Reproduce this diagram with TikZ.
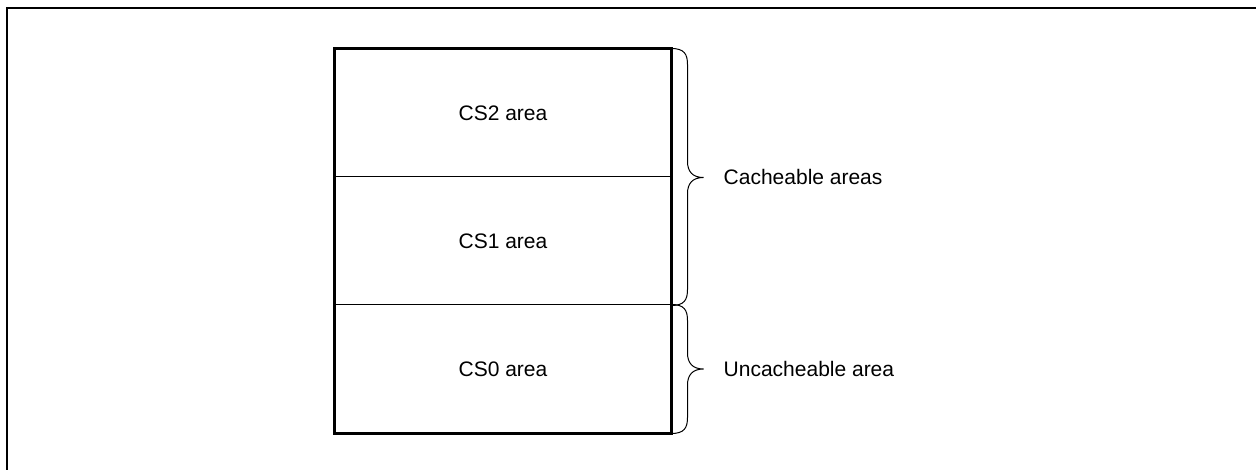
\documentclass[tikz,border=0pt]{standalone}
\usepackage{fontspec}
\setmainfont{Liberation Sans}
\usetikzlibrary{calc}
\begin{document}
\begin{tikzpicture}[x=1pt,y=-1pt,
  area/.style={draw, line width=1pt, rectangle, minimum width=336pt, minimum height=128pt, inner sep=0pt, font=\fontsize{21}{25}\selectfont},
  lbl/.style={anchor=west, inner sep=0pt, font=\fontsize{21}{25}\selectfont},
  bracel/.style={draw, line width=1pt},
  frame/.style={line width=2.5pt}]
\useasboundingbox (0,0) rectangle (1256,470);
\draw[frame] (7,470) -- (7,8) -- (1256,8);
\node[area] (cs2) at (503,113) {CS2 area};
\node[area] (cs1) at (503,241) {CS1 area};
\node[area] (cs0) at (503,369) {CS0 area};
\draw[line width=2.5pt] (cs2.north west) rectangle (cs0.south east);
% brace for cacheable areas
\coordinate (b1t) at (cs2.north east);
\coordinate (b1b) at (cs1.south east);
\coordinate (b1m) at (cs2.south east);
\draw[bracel] (b1t) .. controls ($(b1t)+(13,0)$) and ($(b1t)+(16,6)$) .. ($(b1t)+(16,16)$)
  -- ($(b1m)+(16,-16)$) .. controls ($(b1m)+(16,-6)$) and ($(b1m)+(21,0)$) .. ($(b1m)+(32,0)$)
  .. controls ($(b1m)+(21,0)$) and ($(b1m)+(16,6)$) .. ($(b1m)+(16,16)$)
  -- ($(b1b)+(16,-16)$) .. controls ($(b1b)+(16,-6)$) and ($(b1b)+(13,0)$) .. (b1b);
% brace for uncacheable area
\coordinate (b2t) at (cs0.north east);
\coordinate (b2b) at (cs0.south east);
\coordinate (b2m) at (cs0.east);
\draw[bracel] (b2t) .. controls ($(b2t)+(13,0)$) and ($(b2t)+(16,6)$) .. ($(b2t)+(16,16)$)
  -- ($(b2m)+(16,-16)$) .. controls ($(b2m)+(16,-6)$) and ($(b2m)+(21,0)$) .. ($(b2m)+(32,0)$)
  .. controls ($(b2m)+(21,0)$) and ($(b2m)+(16,6)$) .. ($(b2m)+(16,16)$)
  -- ($(b2b)+(16,-16)$) .. controls ($(b2b)+(16,-6)$) and ($(b2b)+(13,0)$) .. (b2b);
\node[lbl] (cach) at ($(b1m)+(52,-1)$) {Cacheable areas};
\node[lbl] (unc) at ($(b2m)+(52,0)$) {Uncacheable area};
\end{tikzpicture}
\end{document}
